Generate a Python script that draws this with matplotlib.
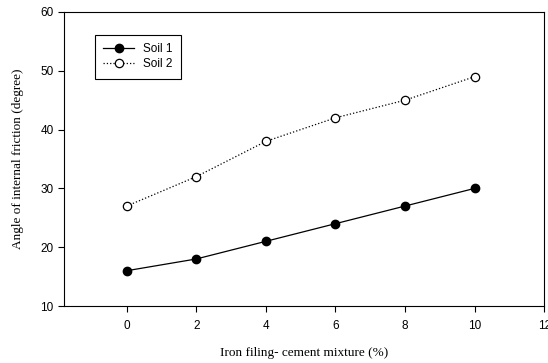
import matplotlib
matplotlib.use("Agg")
from matplotlib import pyplot as plt

# data
mix = [0, 2, 4, 6, 8, 10]
soil1 = [16, 18, 21, 24, 27, 30]
soil2 = [27, 32, 38, 42, 45, 49]
xticks = [0, 2, 4, 6, 8, 10, 12]
yticks = [10, 20, 30, 40, 50, 60]

fig = plt.figure(figsize=(5.48, 3.63), dpi=100)
ax = fig.add_axes([0.117, 0.157, 0.876, 0.810])

ax.plot(mix, soil1, '-', color='black', lw=0.9, marker='o', ms=6,
        mfc='black', mec='black', label='Soil 1')
ax.plot(mix, soil2, ':', color='black', lw=0.9, marker='o', ms=6,
        mfc='white', mec='black', mew=0.9, label='Soil 2')

ax.set_xlim(-1.8, 12)
ax.set_ylim(10, 60)
ax.set_xticks(xticks)
ax.set_yticks(yticks)
ax.tick_params(direction='out', length=4, width=0.8, labelsize=8.5,
               top=False, right=False)
ax.tick_params(axis='x', pad=6)
for lab in ax.get_xticklabels() + ax.get_yticklabels():
    lab.set_family('Liberation Sans')
for s in ax.spines.values():
    s.set_linewidth(0.8)

ax.set_xlabel('Iron filing- cement mixture (%)', family='Liberation Serif',
              fontsize=9.5, labelpad=11)
ax.set_ylabel('Angle of internal friction (degree)', family='Liberation Serif',
              fontsize=9.5, labelpad=12)

leg = ax.legend(loc='upper left', bbox_to_anchor=(0.052, 0.943),
                prop={'family': 'Liberation Sans', 'size': 8.5},
                fancybox=False, edgecolor='black', framealpha=1,
                handlelength=2.6, borderpad=0.7, labelspacing=0.3)
leg.get_frame().set_linewidth(0.8)

fig.savefig('out.png', dpi=100)
